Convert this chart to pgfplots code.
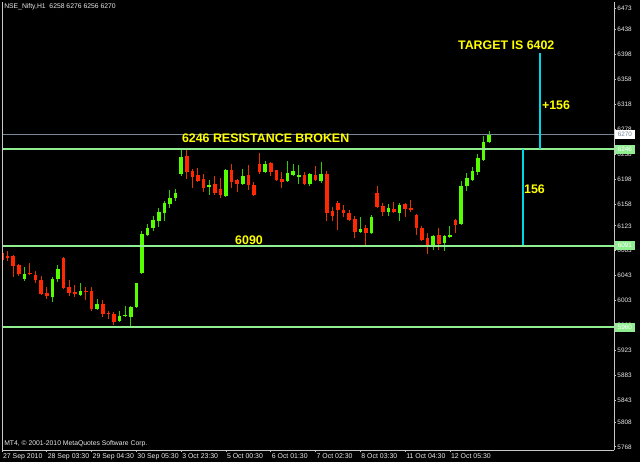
\documentclass[border=0pt]{standalone}
\usepackage{pgfplots}
\usepackage{pgfplotstable}
\pgfplotsset{compat=1.18}
\usepackage{fontspec}
\setmainfont{Liberation Sans}

\definecolor{upbody}{RGB}{85,255,0}
\definecolor{upwick}{RGB}{50,205,0}
\definecolor{dnbody}{RGB}{255,40,0}
\definecolor{dnwick}{RGB}{220,55,0}
\definecolor{level}{RGB}{144,238,144}
\definecolor{slate}{RGB}{119,136,153}
\definecolor{aqua}{RGB}{0,215,230}
\definecolor{frame}{RGB}{200,200,200}
\definecolor{lbl}{RGB}{235,235,235}
\definecolor{note}{RGB}{255,255,0}

% hourly bars, x = bar index
\pgfplotstableread{
x o h l c
4 6038 6057 6034 6046
9 6009 6041 6000 6037
10 6037 6060 6033 6054
14 6012 6032 6011 6019
17 5990 6005 5988 5997
21 5970 5986 5969 5979
22 5978 5994 5977 5980
23 5977 5994 5960 5993
24 5993 6031 5992 6031
25 6048 6114 6047 6110
26 6108 6126 6107 6120
27 6119 6139 6115 6132
28 6131 6151 6121 6145
29 6143 6163 6131 6160
30 6158 6181 6151 6168
31 6168 6182 6163 6176
32 6207 6245 6203 6233
37 6185 6197 6173 6189
40 6171 6215 6170 6213
43 6191 6214 6190 6203
47 6210 6227 6209 6223
51 6195 6227 6193 6208
52 6205 6222 6203 6211
53 6202 6220 6190 6205
55 6191 6208 6187 6207
57 6195 6226 6192 6206
64 6113 6137 6112 6118
66 6111 6141 6110 6137
69 6145 6158 6139 6152
71 6144 6159 6131 6157
77 6092 6108 6084 6107
79 6095 6109 6082 6106
80 6105 6123 6104 6108
82 6126 6195 6124 6187
83 6187 6208 6179 6200
84 6197 6218 6196 6211
85 6210 6238 6205 6232
86 6229 6267 6228 6257
87 6258 6276 6256 6270
}\bull

\pgfplotstableread{
x o h l c
0 6080 6084 6067 6068
1 6075 6083 6067 6072
2 6075 6076 6041 6059
3 6060 6062 6043 6045
5 6047 6063 6044 6045
6 6044 6051 6032 6036
7 6036 6043 6013 6014
8 6015 6024 6005 6011
11 6071 6073 6022 6023
12 6025 6036 6011 6015
13 6016 6028 6008 6014
15 6018 6024 6004 6016
16 6018 6024 5987 5989
18 5997 6004 5976 5982
19 5983 5987 5973 5981
20 5982 5984 5964 5969
33 6235 6245 6199 6210
34 6211 6214 6184 6202
35 6204 6216 6193 6195
36 6198 6206 6178 6184
38 6190 6203 6173 6175
39 6182 6200 6167 6173
41 6213 6223 6184 6194
42 6197 6198 6178 6191
44 6204 6221 6181 6188
45 6189 6193 6171 6173
46 6223 6240 6207 6209
48 6224 6225 6203 6210
49 6213 6213 6195 6196
50 6198 6210 6183 6194
54 6205 6210 6188 6190
56 6205 6219 6196 6197
58 6206 6211 6130 6144
59 6147 6153 6131 6139
60 6159 6163 6117 6148
61 6148 6156 6138 6144
62 6144 6148 6130 6133
63 6134 6139 6104 6113
65 6120 6124 6092 6111
67 6176 6187 6151 6153
68 6155 6159 6139 6145
70 6150 6161 6144 6145
72 6158 6160 6138 6150
73 6152 6165 6146 6149
74 6140 6142 6109 6120
75 6119 6123 6100 6101
76 6104 6111 6077 6093
78 6108 6119 6085 6094
81 6132 6134 6112 6124
}\bear

\begin{document}
\begin{tikzpicture}
\fill[black] (0pt,0pt) rectangle (480pt,346.5pt);
\begin{axis}[
    at={(1.5pt,9pt)}, anchor=south west,
    scale only axis, width=459pt, height=336pt,
    xmin=0, xmax=109.29, ymin=5763, ymax=6482.5,
    axis x line*=bottom, axis y line*=right,
    x axis line style={-}, y axis line style={-},
    axis line style={draw=frame, line width=0.75pt},
    tick align=outside, major tick length=1.6pt,
    tick style={draw=frame, line width=0.6pt},
    xtick={0,8,16,24,32,40,48,56,64,72,80},
    xticklabels={27 Sep 2010,28 Sep 03:30,29 Sep 04:30,30 Sep 05:30,3 Oct 23:30,5 Oct 00:30,6 Oct 01:30,7 Oct 02:30,8 Oct 03:30,11 Oct 04:30,12 Oct 05:30},
    xticklabel style={anchor=north west, inner sep=0pt, xshift=0.6pt, yshift=-1.2pt, text=lbl, font=\fontsize{5.2}{6}\selectfont},
    ytick={5768,5808,5843,5883,5923,5963,6003,6043,6083,6123,6158,6198,6238,6278,6318,6358,6398,6438,6473},
    yticklabels={5768,5808,5843,5883,5923,5963,6003,6043,6083,6123,6158,6198,6238,6278,6318,6358,6398,6438,6473},
    yticklabel style={anchor=west, inner sep=0pt, xshift=0.8pt, text=lbl, font=\fontsize{4.8}{5.5}\selectfont},
]
% wicks
\addplot[draw=none, forget plot, error bars/.cd, y dir=both, y explicit, error mark=none,
  error bar style={draw=upwick, line width=0.75pt}]
  table[x=x, y=o, y error plus expr={\thisrow{h}-\thisrow{o}}, y error minus expr={\thisrow{o}-\thisrow{l}}] {\bull};
\addplot[draw=none, forget plot, error bars/.cd, y dir=both, y explicit, error mark=none,
  error bar style={draw=dnwick, line width=0.75pt}]
  table[x=x, y=c, y error plus expr={\thisrow{h}-\thisrow{c}}, y error minus expr={\thisrow{c}-\thisrow{l}}] {\bear};
% bodies
\addplot[draw=none, forget plot, error bars/.cd, y dir=plus, y explicit, error mark=none,
  error bar style={draw=upbody, line width=2.8pt, line cap=butt}]
  table[x=x, y=o, y error plus expr={\thisrow{c}-\thisrow{o}}] {\bull};
\addplot[draw=none, forget plot, error bars/.cd, y dir=plus, y explicit, error mark=none,
  error bar style={draw=dnbody, line width=2.8pt, line cap=butt}]
  table[x=x, y=c, y error plus expr={\thisrow{o}-\thisrow{c}}] {\bear};
% levels
\addplot[slate, line width=0.8pt] coordinates {(0,6270) (109.29,6270)};
\addplot[level, line width=1.3pt] coordinates {(0,6246) (109.29,6246)};
\addplot[level, line width=1.3pt] coordinates {(0,6091) (109.29,6091)};
\addplot[level, line width=1.3pt] coordinates {(0,5960) (109.29,5960)};
\addplot[aqua, line width=1.3pt] coordinates {(93.0,6246) (93.0,6092)};
\addplot[aqua, line width=1.3pt] coordinates {(96.1,6246) (96.1,6400)};
\draw[frame, line width=0.75pt] (rel axis cs:0,0) -- (rel axis cs:0,1);
\begin{scope}[every node/.style={anchor=west, inner sep=0pt, text=note, font=\bfseries\fontsize{9.3}{10}\selectfont}]
\node at (axis cs:32.1,6264) {6246 RESISTANCE BROKEN};
\node at (axis cs:41.6,6100) {6090};
\node at (axis cs:81.4,6413) {TARGET IS 6402};
\node at (axis cs:96.4,6317) {+156};
\node at (axis cs:93.2,6181) {156};
\end{scope}
\coordinate (b1) at (axis cs:109.29,6270);
\coordinate (b2) at (axis cs:109.29,6246);
\coordinate (b3) at (axis cs:109.29,6091);
\coordinate (b4) at (axis cs:109.29,5960);
\end{axis}
\begin{scope}[every node/.style={anchor=west, inner sep=0pt, minimum width=14.5pt, minimum height=6.8pt, xshift=0.7pt, font=\fontsize{4.8}{5.5}\selectfont}]
\node[fill=white, text=slate] at (b1) {6270};
\node[fill=level, text=white] at (b2) {6246};
\node[fill=level, text=white] at (b3) {6091};
\node[fill=level, text=white] at (b4) {5960};
\end{scope}
\node[anchor=west, inner sep=0pt, text=lbl, font=\fontsize{5.1}{6}\selectfont] at (3pt,341.2pt) {NSE\_Nifty,H1\ \ 6258 6276 6256 6270};
\node[anchor=west, inner sep=0pt, text=lbl, font=\fontsize{5.1}{6}\selectfont] at (3pt,13.6pt) {MT4, © 2001-2010 MetaQuotes Software Corp.};
\pgfresetboundingbox
\useasboundingbox (0pt,0pt) rectangle (480pt,346.5pt);
\end{tikzpicture}
\end{document}
